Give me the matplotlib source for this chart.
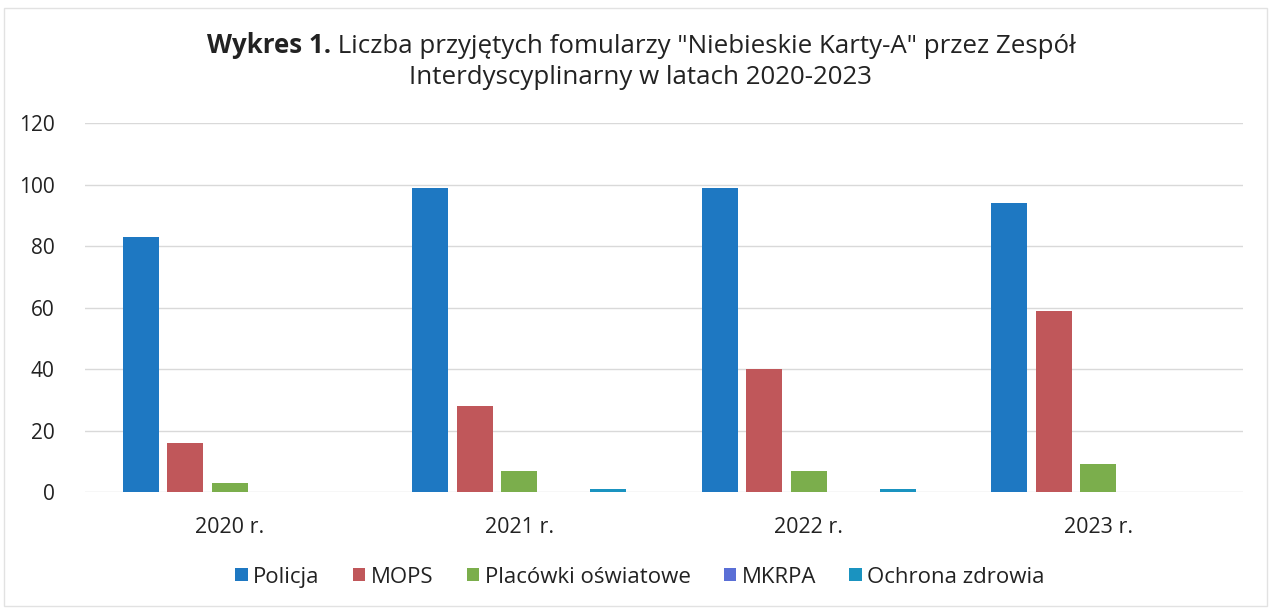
import numpy as np
import matplotlib
matplotlib.use('Agg')
import matplotlib.pyplot as plt
from matplotlib.patches import Rectangle

plt.rcParams['font.family'] = ['Open Sans', 'DejaVu Sans']

years = ['2020 r.', '2021 r.', '2022 r.', '2023 r.']
series = ['Policja', 'MOPS', 'Placówki oświatowe', 'MKRPA', 'Ochrona zdrowia']
policja = [83, 99, 99, 94]
mops = [16, 28, 40, 59]
placowki = [3, 7, 7, 9]
mkrpa = [0, 0, 0, 0]
ochrona = [0, 1, 1, 0]
values = [policja, mops, placowki, mkrpa, ochrona]
colors = ['#1E78C2', '#C0575A', '#7BAE4C', '#5A6FD6', '#1A93C0']

fig = plt.figure(figsize=(12.71, 6.12), dpi=100)
ax = fig.add_axes([0.0669, 0.196, 0.9111, 0.603])

x = np.arange(len(years))
step = 0.1537
width = 0.124
for i, (name, vals) in enumerate(zip(series, values)):
    ax.bar(x + (i - 2) * step, vals, width, color=colors[i], label=name, zorder=3)

ax.set_xlim(-0.5, len(years) - 0.5)
ax.set_ylim(0, 120)
ax.set_yticks(range(0, 121, 20))
ax.set_xticks(x)
ax.set_xticklabels(years)
ax.grid(axis='y', color='#D9D9D9', linewidth=1, zorder=0)
for s in ax.spines.values():
    s.set_visible(False)
ax.tick_params(axis='both', length=0, labelsize=15, colors='#222222')
ax.tick_params(axis='x', labelsize=15.5, pad=18)
ax.tick_params(axis='y', pad=22)

# title: bold "Wykres 1." followed by regular text, centred as one line
t_bold = 'Wykres 1.'
t_rest = ' Liczba przyjętych fomularzy "Niebieskie Karty-A" przez Zespół'
tsize = 18.6
tb = fig.text(0, 0.914, t_bold, fontsize=tsize, fontweight='bold', color='#222222', va='baseline')
tr = fig.text(0, 0.914, t_rest, fontsize=tsize, color='#222222', va='baseline')
fig.canvas.draw()
r = fig.canvas.get_renderer()
wb = tb.get_window_extent(r).width
wr = tr.get_window_extent(r).width
x0 = 641 - (wb + wr) / 2
tb.set_x(x0 / 1271)
tr.set_x((x0 + wb) / 1271)
fig.text(641 / 1271, 0.862, 'Interdyscyplinarny w latach 2020-2023', fontsize=tsize,
         color='#222222', ha='center', va='baseline')

ax.legend(loc='center', bbox_to_anchor=((640 - 85) / 1158.0, (35 - 120) / 369.0), ncol=5,
          frameon=False, fontsize=16, handlelength=0.55, handleheight=0.55,
          handletextpad=0.25, columnspacing=1.5, labelcolor='#222222')

fig.add_artist(Rectangle((0.003, 0.01), 0.994, 0.977, transform=fig.transFigure,
                         fill=False, edgecolor='#E2E2E2', linewidth=1))

fig.savefig('out.png', dpi=100, facecolor='white')
